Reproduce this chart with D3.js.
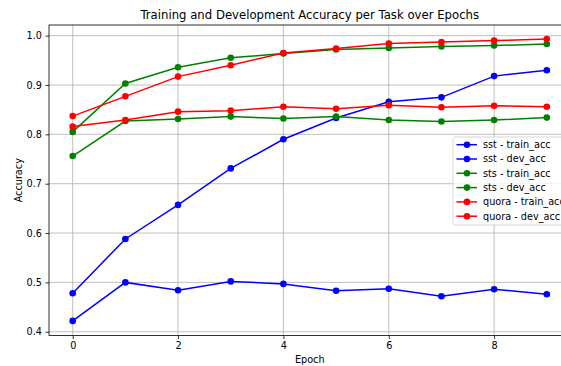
<!DOCTYPE html>
<html>
<head>
<meta charset="utf-8">
<script src="https://cdn.jsdelivr.net/npm/d3@7/dist/d3.min.js"></script>
<style>
	html, body { margin: 0; padding: 0; background: #fff; overflow: hidden; }
	svg { display: block; font-family: "DejaVu Sans", sans-serif; }
</style>
</head>
<body>
<svg id="chart" width="561" height="366"></svg>
<script>
'use strict';

var epochs = [0, 1, 2, 3, 4, 5, 6, 7, 8, 9];
var xTicks = [0, 2, 4, 6, 8];
var yTicks = [0.4, 0.5, 0.6, 0.7, 0.8, 0.9, 1.0];

var sstTrain = [0.478, 0.588, 0.657, 0.731, 0.790, 0.833, 0.866, 0.875, 0.918, 0.930];
var sstDev = [0.422, 0.500, 0.484, 0.502, 0.497, 0.483, 0.487, 0.472, 0.486, 0.476];
var stsTrain = [0.805, 0.903, 0.936, 0.955, 0.964, 0.972, 0.975, 0.978, 0.980, 0.983];
var stsDev = [0.756, 0.827, 0.831, 0.836, 0.832, 0.836, 0.829, 0.826, 0.829, 0.834];
var quoraTrain = [0.837, 0.877, 0.917, 0.940, 0.965, 0.974, 0.984, 0.987, 0.990, 0.993];
var quoraDev = [0.816, 0.829, 0.846, 0.848, 0.856, 0.852, 0.859, 0.855, 0.858, 0.856];

var seriesNames = ['sst - train_acc', 'sst - dev_acc', 'sts - train_acc', 'sts - dev_acc', 'quora - train_acc', 'quora - dev_acc'];
var seriesValues = [sstTrain, sstDev, stsTrain, stsDev, quoraTrain, quoraDev];
var seriesColors = ['#0000ff', '#0000ff', '#008000', '#008000', '#ff0000', '#ff0000'];

var margin = {top: 25, left: 49},
	plotW = 521.5,
	plotH = 310.5,
	svg = d3.select('#chart');

var x = d3.scaleLinear().domain([-0.45, 9.45]).range([0, plotW]);
var y = d3.scaleLinear().domain([0.3924, 1.0216]).range([plotH, 0]);

var g = svg.append('g').attr('transform', 'translate(' + margin.left + ',' + margin.top + ')');

// grid
g.append('g').selectAll('line.vg')
	.data(xTicks)
	.enter().append('line')
	.attr('x1', function(d) { return x(d); })
	.attr('x2', function(d) { return x(d); })
	.attr('y1', 0).attr('y2', plotH)
	.attr('stroke', '#b0b0b0').attr('stroke-width', 0.8);

g.append('g').selectAll('line.hg')
	.data(yTicks)
	.enter().append('line')
	.attr('x1', 0).attr('x2', plotW)
	.attr('y1', function(d) { return y(d); })
	.attr('y2', function(d) { return y(d); })
	.attr('stroke', '#b0b0b0').attr('stroke-width', 0.8);

// lines
var line = d3.line()
	.x(function(d, i) { return x(epochs[i]); })
	.y(function(d) { return y(d); });

seriesValues.forEach(function(vals, k) {
	var s = g.append('g');
	s.append('path')
		.datum(vals)
		.attr('fill', 'none')
		.attr('stroke', seriesColors[k])
		.attr('stroke-width', 1.5)
		.attr('d', line);
	s.selectAll('circle')
		.data(vals)
		.enter().append('circle')
		.attr('cx', function(d, i) { return x(epochs[i]); })
		.attr('cy', function(d) { return y(d); })
		.attr('r', 3.3)
		.attr('fill', seriesColors[k]);
});

// axes
var xAxis = g.append('g')
	.attr('transform', 'translate(0,' + plotH + ')')
	.call(d3.axisBottom(x).tickValues(xTicks).tickFormat(d3.format('d')).tickSize(3.5).tickPadding(3.5));
var yAxis = g.append('g')
	.call(d3.axisLeft(y).tickValues(yTicks).tickFormat(d3.format('.1f')).tickSize(3.5).tickPadding(3.5));

[xAxis, yAxis].forEach(function(a) {
	a.select('.domain').remove();
	a.selectAll('line').attr('stroke', '#000').attr('stroke-width', 0.8);
	a.selectAll('text').attr('fill', '#000').style('font-size', '9.7px').style('font-family', '"DejaVu Sans", sans-serif');
});

// spines
g.append('rect')
	.attr('x', 0).attr('y', 0)
	.attr('width', plotW).attr('height', plotH)
	.attr('fill', 'none')
	.attr('stroke', '#000')
	.attr('stroke-width', 0.8);

// labels
svg.append('text')
	.attr('x', margin.left + plotW / 2)
	.attr('y', 19)
	.attr('text-anchor', 'middle')
	.style('font-size', '11.7px')
	.text('Training and Development Accuracy per Task over Epochs');

svg.append('text')
	.attr('x', margin.left + plotW / 2)
	.attr('y', 363)
	.attr('text-anchor', 'middle')
	.style('font-size', '9.7px')
	.text('Epoch');

svg.append('text')
	.attr('transform', 'translate(22,' + (margin.top + plotH / 2) + ') rotate(-90)')
	.attr('text-anchor', 'middle')
	.style('font-size', '9.7px')
	.text('Accuracy');

// legend
var lg = svg.append('g').attr('transform', 'translate(453,137)');
lg.append('rect')
	.attr('width', 112).attr('height', 88)
	.attr('rx', 2.5)
	.attr('fill', '#fff').attr('fill-opacity', 0.8)
	.attr('stroke', '#cccccc').attr('stroke-width', 0.8);

var items = lg.selectAll('g.item')
	.data(seriesNames)
	.enter().append('g')
	.attr('transform', function(d, i) { return 'translate(0,' + (7.7 + i * 14.3) + ')'; });
items.append('line')
	.attr('x1', 3.5).attr('x2', 24)
	.attr('stroke', function(d, i) { return seriesColors[i]; })
	.attr('stroke-width', 1.5);
items.append('circle')
	.attr('cx', 14).attr('r', 3.3)
	.attr('fill', function(d, i) { return seriesColors[i]; });
items.append('text')
	.attr('x', 30).attr('dy', '0.35em')
	.style('font-size', '9.7px')
	.text(function(d) { return d; });
</script>
</body>
</html>
